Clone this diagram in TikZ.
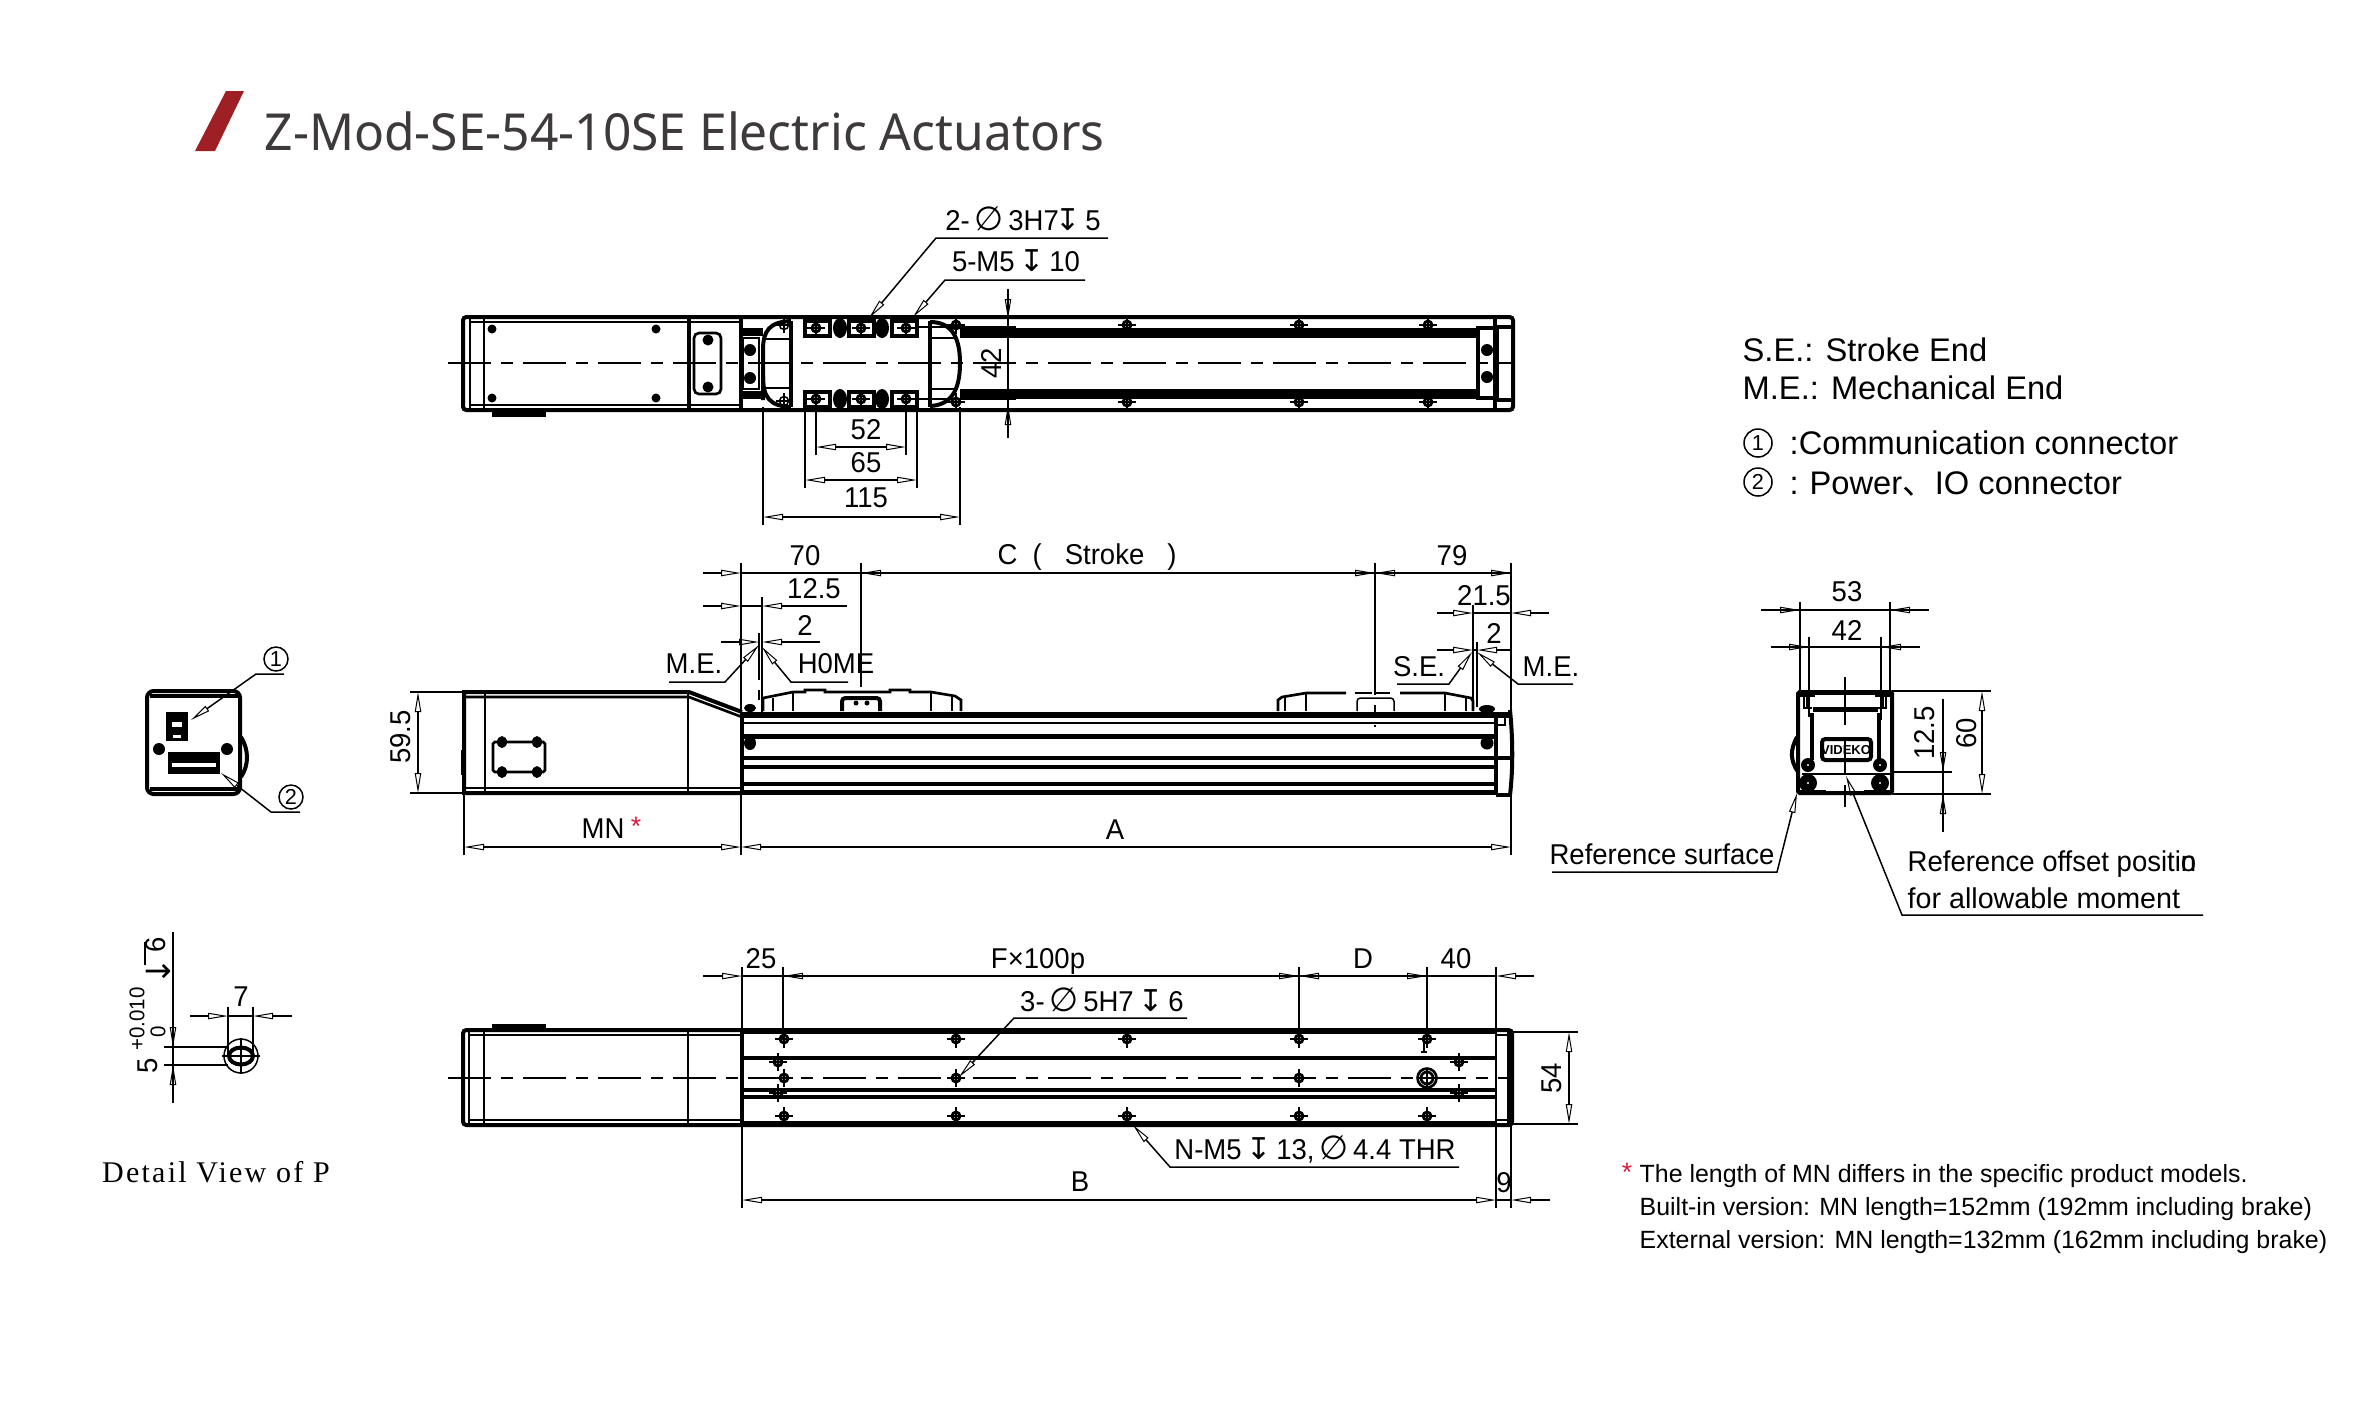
\documentclass[tikz,border=0pt]{standalone}
\usepackage{fontspec}
\usetikzlibrary{arrows.meta,calc}
\newfontfamily\dimfont[FakeStretch=0.96]{Liberation Sans}
\newfontfamily\notefont{Liberation Sans}
\newfontfamily\titlefont[FakeStretch=0.975]{Noto Sans}
\newfontfamily\detailfont[LetterSpace=7.5]{Liberation Serif}
\newfontfamily\glyphfont{DejaVu Sans}
\newfontfamily\cjkfont{Noto Sans CJK SC}
\definecolor{slashred}{HTML}{9E1F24}
\definecolor{titlegray}{HTML}{3E3A3B}
\definecolor{starred}{HTML}{D7193C}
\newcommand{\phisym}{{\glyphfont\fontsize{10pt}{10pt}\selectfont ∅}}
\newcommand{\depthsym}{{\glyphfont\fontsize{9pt}{10pt}\selectfont ↧}}
\newcommand{\railhole}[2]{\fill (#1,#2) circle (5.5); \fill[white] (#1,#2) circle (2.2); \draw[dimline] (#1-9,#2) -- (#1+9,#2); \draw[dimline] (#1,#2-9) -- (#1,#2+9);}
\newcommand{\boltdot}[3]{\fill (#1,#2) circle (#3); \fill[white] (#1,#2) circle (1.2);}
\tikzset{
  tipopen/.tip={Triangle[open,length=6pt,width=1.9pt,line width=.3pt]},
  dimline/.style={line width=.45pt},
  dimend/.style={dimline,-tipopen},
  dimboth/.style={dimline,tipopen-tipopen},
  heavy/.style={line width=1.2pt},
  medium/.style={line width=.8pt},
  centerline/.style={line width=.45pt,dash pattern=on 13pt off 3pt on 3.5pt off 3pt},
  lab/.style={font=\dimfont\fontsize{8.6pt}{10pt}\selectfont,inner sep=0pt},
  note/.style={font=\notefont\fontsize{7.48pt}{9pt}\selectfont,inner sep=0pt,anchor=base west},
  side/.style={font=\notefont\fontsize{9.8pt}{11pt}\selectfont,inner sep=0pt,anchor=base west},
  callout/.style={circle,draw,line width=.45pt,inner sep=0pt,minimum size=#1,font=\notefont\fontsize{6.5pt}{8pt}\selectfont}
}
\begin{document}
\begin{tikzpicture}[x=0.3pt,y=-0.3pt]
\useasboundingbox (0,0) rectangle (2362,1417);
\fill[white] (0,0) rectangle (2362,1417);
%title
\fill[slashred] (195,151) -- (215,151) -- (244,91) -- (226,91) -- cycle;
\node[anchor=base west,inner sep=0pt,text=titlegray,font=\titlefont\fontsize{15.3pt}{18pt}\selectfont] (title) at (264,150) {Z-Mod-SE-54-10SE Electric Actuators};
%top view
\draw[heavy,rounded corners=1pt] (463,317) rectangle (1513,410);
\draw[medium] (470,322) -- (741,322);
\draw[medium] (470,405) -- (741,405);
\draw[medium] (470,317) -- (470,410);
\draw[medium] (484,317) -- (484,410);
\draw[heavy] (689,317) -- (689,410);
\draw[heavy] (741,317) -- (741,410);
\fill (492,410) rectangle (546,417);
\fill (492,329) circle (4.5);
\fill (492,398) circle (4.5);
\fill (656,329) circle (4.5);
\fill (656,398) circle (4.5);
\draw[medium,rounded corners=1.5pt] (694,333) rectangle (721,394);
\fill (708,340) circle (5.5);
\fill (708,387) circle (5.5);
\fill (743,328) rectangle (763,336);
\fill (743,391) rectangle (763,399);
\fill (750,350) circle (6);
\fill (750,378) circle (6);
\draw[medium] (743,338) rectangle (759,389);
\draw[heavy] (763,400) -- (763,350) .. controls (763,330) and (770,322) .. (791,321);
\draw[heavy] (763,376) .. controls (763,398) and (770,406) .. (791,407);
\draw[heavy] (791,321) -- (791,407);
\draw[medium] (763,339) -- (791,339);
\draw[medium] (763,388) -- (791,388);
\draw[heavy] (930,321) -- (930,407);
\draw[heavy] (930,322) .. controls (950,322) and (960,335) .. (960,363) .. controls (960,392) and (950,405) .. (930,406);
\draw[medium] (930,338) -- (957,338);
\draw[medium] (930,389) -- (957,389);
\draw[dimline] (784,317) -- (784,333);
\draw[dimline] (776,325) -- (792,325);
\draw[dimline] (784,325) circle (4.5);
\draw[dimline] (776,401) -- (792,401);
\draw[dimline] (784,393) -- (784,409);
\draw[dimline] (784,401) circle (4.5);
\railhole{956}{325}
\railhole{956}{402}
\draw[heavy] (805,321) rectangle (830,336);
\draw[heavy] (849,321) rectangle (874,336);
\draw[heavy] (892,321) rectangle (917,336);
\draw[heavy] (805,392) rectangle (830,407);
\draw[heavy] (849,392) rectangle (874,407);
\draw[heavy] (892,392) rectangle (917,407);
\fill (840,328) ellipse [x radius=7,y radius=10];
\fill (882,328) ellipse [x radius=7,y radius=10];
\fill (840,399) ellipse [x radius=7,y radius=10];
\fill (882,399) ellipse [x radius=7,y radius=10];
\railhole{816}{328}
\railhole{861}{328}
\railhole{906}{328}
\railhole{816}{399}
\railhole{861}{399}
\railhole{906}{399}
\fill (960,328) rectangle (1478,338);
\fill (960,389) rectangle (1478,399);
\railhole{1127}{325}
\railhole{1299}{325}
\railhole{1428}{325}
\railhole{1127}{402}
\railhole{1299}{402}
\railhole{1428}{402}
\draw[heavy] (1478,328) rectangle (1495,398);
\fill (1487,350) circle (6);
\fill (1487,377) circle (6);
\draw[heavy] (1495,317) -- (1495,410);
\draw[medium] (1498,327) -- (1498,400);
\draw[heavy] (1495,327) -- (1512,327);
\draw[heavy] (1495,400) -- (1512,400);
\draw[centerline] (448,363) -- (1513,363);
%top view dims
\draw[dimline] (1008,289) -- (1008,438);
\draw[dimend] (1008,301) -- (1008,319);
\draw[dimend] (1008,425) -- (1008,405);
\draw[dimline] (917,327) -- (1016,327);
\draw[dimline] (917,399) -- (1016,399);
\node[lab,rotate=90] (h42) at (991,363) {42};
\draw[dimline] (816,407) -- (816,455);
\draw[dimline] (906,407) -- (906,455);
\draw[dimboth] (816,447) -- (906,447);
\node[lab] (w52) at (866,430) {52};
\draw[dimline] (805,407) -- (805,488);
\draw[dimline] (917,407) -- (917,488);
\draw[dimboth] (805,480) -- (917,480);
\node[lab] (w65) at (866,463) {65};
\draw[dimline] (763,407) -- (763,525);
\draw[dimline] (960,407) -- (960,525);
\draw[dimboth] (763,517) -- (960,517);
\node[lab] (w115) at (866,498) {115};
\draw[dimend] (1108,238) -- (936,238) -- (869,318);
\node[lab] (pin3) at (1023,219) {2-\,\phisym\,3H7\hspace{-1pt}\depthsym\,5};
\draw[dimend] (1085,280) -- (945,280) -- (913,317);
\node[lab] (m5top) at (1016,261) {5-M5\,\depthsym\,10};
%side view
\draw[heavy] (742,712) -- (689,692) -- (464,692) -- (464,793) -- (742,793);
\draw[medium] (464,697) -- (689,697) -- (742,717);
\draw[medium] (464,788) -- (742,788);
\draw[medium] (485,692) -- (485,793);
\draw[medium] (688,692) -- (688,793);
\draw[heavy] (742,712) -- (742,795);
\draw[medium] (462,750) -- (462,775);
\draw[medium,rounded corners=.5pt] (493,742) rectangle (545,772);
\fill (502,742) ellipse [x radius=5,y radius=6];
\fill (537,742) ellipse [x radius=5,y radius=6];
\fill (502,772) ellipse [x radius=5,y radius=6];
\fill (537,772) ellipse [x radius=5,y radius=6];
\fill (742,712) rectangle (1496,718);
\draw[dimline] (742,723) -- (1496,723);
\fill (742,734) rectangle (1496,739);
\fill (742,756) rectangle (1496,760);
\fill (742,765) rectangle (1496,769);
\fill (742,782) rectangle (1496,786);
\fill (742,790) rectangle (1496,795);
\fill (750,743) ellipse [x radius=6,y radius=7];
\fill (750,708) ellipse [x radius=6,y radius=4];
\draw[medium] (763,711) -- (763,698) -- (793,692) -- (805,692) -- (805,690) -- (825,690) -- (825,692) -- (890,692) -- (890,690) -- (910,690) -- (910,692) -- (931,692) -- (955,696) -- (961,700) -- (961,711);
\draw[medium] (773,698) -- (773,711);
\draw[medium] (793,692) -- (793,711);
\draw[medium] (931,692) -- (931,711);
\draw[medium] (952,696) -- (952,711);
\draw[heavy,rounded corners=1pt] (842,711) -- (842,698) -- (880,698) -- (880,711);
\fill (856,703) circle (2.5);
\fill (867,703) circle (2.5);
\draw[medium] (1278,711) -- (1278,700) -- (1282,697) -- (1306,693) -- (1346,693);
\draw[medium] (1355,693) -- (1372,693);
\draw[medium] (1376,693) -- (1390,693);
\draw[medium] (1400,693) -- (1445,693) -- (1471,698) -- (1473,701) -- (1473,711);
\draw[dimline] (1285,696) -- (1285,711);
\draw[dimline] (1306,693) -- (1306,711);
\draw[dimline] (1445,693) -- (1445,711);
\draw[dimline] (1466,697) -- (1466,711);
\draw[dimline,rounded corners=1pt] (1357,711) -- (1357,698) -- (1394,698) -- (1394,711);
\fill (1487,709) ellipse [x radius=8,y radius=4];
\fill (1487,743) circle (6.5);
\fill (1478,712) rectangle (1510,718);
\draw[heavy] (1496,712) -- (1496,795);
\draw[heavy] (1510,710) .. controls (1513,740) and (1513,770) .. (1510,795);
\draw[heavy] (1496,758) -- (1511,758);
\draw[heavy] (1496,795) -- (1511,795);
\draw[medium] (1496,716) rectangle (1505,725);
%side view dims
\draw[dimline] (741,563) -- (741,855);
\draw[dimline] (861,563) -- (861,677);
\draw[dimline,dashed] (861,677) -- (861,700);
\draw[dimend] (703,573) -- (741,573);
\draw[dimline] (741,573) -- (861,573);
\draw[dimend] (1375,573) -- (861,573);
\node[lab] (w70) at (805,556) {70};
\draw[dimline] (1375,563) -- (1375,685);
\draw[dimline,dashed] (1375,685) -- (1375,727);
\draw[dimend] (861,573) -- (1375,573);
\draw[dimend] (1375,573) -- (1511,573);
\draw[dimend] (1511,573) -- (1375,573);
\node[lab] (stroke) at (1087,557) {C\ \ (\ \ \ Stroke\ \ \ )};
\node[lab] (w79) at (1452,556) {79};
\draw[dimline] (762,597) -- (762,712);
\draw[dimend] (703,606) -- (741,606);
\draw[dimline] (741,606) -- (762,606);
\draw[dimend] (847,606) -- (762,606);
\node[lab] (w125) at (814,589) {12.5};
\draw[dimline] (759,633) -- (759,670);
\draw[dimline,dashed] (759,670) -- (759,708);
\draw[dimend] (721,642) -- (759,642);
\draw[dimend] (820,642) -- (762,642);
\node[lab] (w2l) at (805,625) {2};
\draw[dimend] (669,682) -- (725,682) -- (759,645);
\node[lab] (melft) at (694,664) {M.E.};
\draw[dimend] (848,682) -- (791,682) -- (762,647);
\node[lab] (home) at (836,664) {H0ME};
\draw[dimline] (410,692) -- (464,692);
\draw[dimline] (410,793) -- (464,793);
\draw[dimboth] (418,692) -- (418,793);
\node[lab,rotate=90] (h595) at (401,737) {59.5};
\draw[dimline] (464,793) -- (464,855);
\draw[dimboth] (464,847) -- (741,847);
\node[lab] (mn) at (603,829) {MN};
\node[inner sep=0pt,text=starred,font=\notefont\fontsize{8pt}{9pt}\selectfont] (mnstar) at (636,826) {*};
\draw[dimline] (1511,563) -- (1511,855);
\draw[dimboth] (741,847) -- (1511,847);
\node[lab] (wa) at (1115,830) {A};
\draw[dimline] (1473,605) -- (1473,710);
\draw[dimend] (1437,613) -- (1473,613);
\draw[dimline] (1473,613) -- (1511,613);
\draw[dimend] (1549,613) -- (1511,613);
\node[lab] (w215) at (1484,596) {21.5};
\draw[dimline] (1477,642) -- (1477,707);
\draw[dimend] (1437,650) -- (1473,650);
\draw[dimline] (1473,650) -- (1477,650);
\draw[dimend] (1510,650) -- (1477,650);
\node[lab] (w2r) at (1494,633) {2};
\draw[dimend] (1397,684) -- (1449,684) -- (1472,652);
\node[lab] (serht) at (1419,667) {S.E.};
\draw[dimend] (1573,684) -- (1518,684) -- (1477,652);
\node[lab] (merht) at (1551,667) {M.E.};
%bottom view
\draw[heavy,rounded corners=1pt] (463,1030) -- (1512,1030) -- (1512,1125) -- (463,1125) -- cycle;
\fill (492,1024) rectangle (546,1030);
\fill (741,1030) rectangle (1496,1034);
\draw[medium] (469,1035) -- (741,1035);
\draw[medium] (469,1120) -- (741,1120);
\draw[medium] (469,1030) -- (469,1125);
\draw[medium] (484,1030) -- (484,1125);
\draw[medium] (688,1030) -- (688,1125);
\draw[heavy] (742,1030) -- (742,1125);
\fill (742,1056) rectangle (1496,1060);
\fill (742,1088) rectangle (1496,1092);
\fill (742,1095) rectangle (1496,1099);
\fill (742,1121) rectangle (1496,1125);
\draw[medium] (1496,1030) -- (1496,1125);
\fill (1507,1030) rectangle (1512,1125);
\draw[medium] (1496,1035) -- (1507,1035);
\draw[medium] (1496,1120) -- (1507,1120);
\railhole{784}{1039}
\railhole{956}{1039}
\railhole{1127}{1039}
\railhole{1299}{1039}
\railhole{1427}{1039}
\railhole{784}{1078}
\railhole{956}{1078}
\railhole{1299}{1078}
\railhole{784}{1116}
\railhole{956}{1116}
\railhole{1127}{1116}
\railhole{1299}{1116}
\railhole{1427}{1116}
\railhole{778}{1062}
\railhole{778}{1093}
\railhole{1459}{1062}
\railhole{1459}{1093}
\draw[dimline] (1424,1043) -- (1424,1052);
\draw[medium] (1421,1052) -- (1427,1052);
\draw[centerline] (448,1078) -- (1512,1078);
\fill[white] (1427,1078) circle (9);
\draw[medium] (1427,1078) circle (9.5);
\draw[medium] (1427,1078) circle (6);
\draw[dimline] (1419,1078) -- (1435,1078);
\draw[dimline] (1427,1070) -- (1427,1086);
%bottom view dims
\draw[dimline] (742,967) -- (742,1208);
\draw[dimline] (783,967) -- (783,1039);
\draw[dimline] (1299,967) -- (1299,1039);
\draw[dimline] (1427,967) -- (1427,1039);
\draw[dimline] (1496,967) -- (1496,1208);
\draw[dimline] (1511,1125) -- (1511,1208);
\draw[dimend] (703,976) -- (742,976);
\draw[dimline] (742,976) -- (783,976);
\draw[dimend] (1299,976) -- (783,976);
\draw[dimend] (783,976) -- (1299,976);
\draw[dimend] (1427,976) -- (1299,976);
\draw[dimend] (1299,976) -- (1427,976);
\draw[dimend] (1534,976) -- (1496,976);
\draw[dimline] (1427,976) -- (1496,976);
\node[lab] (w25) at (761,959) {25};
\node[lab] (pitch) at (1038,961) {F×100p};
\node[lab] (wd) at (1363,959) {D};
\node[lab] (w40) at (1456,959) {40};
\draw[dimend] (1187,1018) -- (1014,1018) -- (959,1077);
\node[lab] (pin5) at (1102,1000) {3-\,\phisym\,5H7\,\depthsym\,6};
\draw[dimend] (1459,1167) -- (1170,1167) -- (1133,1125);
\node[lab] (m5thr) at (1315,1149) {N-M5\,\depthsym\,13,\,\phisym\,4.4 THR};
\draw[dimboth] (742,1200) -- (1496,1200);
\draw[dimline] (1496,1200) -- (1511,1200);
\draw[dimend] (1550,1200) -- (1511,1200);
\node[lab] (wb) at (1080,1182) {B};
\node[lab] (w9) at (1504,1183) {9};
\draw[dimline] (1512,1032) -- (1578,1032);
\draw[dimline] (1512,1124) -- (1578,1124);
\draw[dimboth] (1569,1032) -- (1569,1124);
\node[lab,rotate=90] (h54) at (1552,1078) {54};
%left end view
\draw[heavy,rounded corners=2pt] (147,691) rectangle (240,794);
\draw[heavy] (150,696) -- (238,696);
\draw[heavy] (150,789) -- (238,789);
\draw[heavy] (241,737) .. controls (249,750) and (249,765) .. (241,777);
\fill (166,712) rectangle (188,741);
\fill[white] (172,722) rectangle (182,727);
\fill[white] (173,735) rectangle (181,738);
\fill (168,752) rectangle (220,774);
\fill[white] (172,763) rectangle (216,767);
\fill (159,749) circle (6);
\fill (227,749) circle (6);
\draw[dimend] (284,674) -- (256,674) -- (191,720);
\node[callout=24*0.3pt] (conn1) at (276,659) {1};
\draw[dimend] (300,812) -- (271,812) -- (221,773);
\node[callout=24*0.3pt] (conn2) at (291,797) {2};
%detail view
\draw[dimline] (173,932) -- (173,1103);
\draw[dimline] (164,1047) -- (228,1047);
\draw[dimline] (164,1065) -- (228,1065);
\draw[dimend] (173,1027) -- (173,1047);
\draw[dimend] (173,1085) -- (173,1065);
\draw[dimline] (241,1056) circle (17);
\draw[heavy] (241,1056) ellipse [x radius=12,y radius=8.5];
\draw[dimline] (222,1056) -- (260,1056);
\draw[dimline] (241,1038) -- (241,1074);
\draw[dimline] (228,1007) -- (228,1056);
\draw[dimline] (253,1007) -- (253,1056);
\draw[dimend] (190,1016) -- (228,1016);
\draw[dimline] (228,1016) -- (253,1016);
\draw[dimend] (292,1016) -- (253,1016);
\node[lab] (w7) at (241,997) {7};
\node[lab,rotate=90] (h5) at (148,1066) {5};
\node[rotate=90,inner sep=0pt,font=\dimfont\fontsize{6.4pt}{7pt}\selectfont] (tolup) at (137,1019) {+0.010};
\node[rotate=90,inner sep=0pt,font=\dimfont\fontsize{6.4pt}{7pt}\selectfont] (tollo) at (158,1032) {0};
\node[rotate=90,inner sep=0pt,font=\glyphfont\fontsize{10pt}{10pt}\selectfont] (dep) at (158,972) {↓};
\node[lab,rotate=90] (dep6) at (156,945) {6};
\draw[dimline] (145,942) -- (145,965);
\node[inner sep=0pt,font=\detailfont\fontsize{9pt}{11pt}\selectfont] (detail) at (216,1172) {Detail View of P};
%right end view
\draw[heavy,rounded corners=.5pt] (1798,692) rectangle (1892,793);
\fill (1798,692) rectangle (1815,697);
\fill (1875,692) rectangle (1892,697);
\draw[medium] (1815,694) -- (1875,694);
\draw[dimline] (1804,697) -- (1804,708);
\draw[dimline] (1807,697) -- (1807,708);
\draw[dimline] (1883,697) -- (1883,708);
\draw[dimline] (1886,697) -- (1886,708);
\draw[medium] (1803,708) -- (1812,708);
\draw[medium] (1878,708) -- (1887,708);
\fill (1813,707) rectangle (1878,712);
\draw[heavy] (1812,713) -- (1812,760);
\draw[heavy] (1879,713) -- (1879,760);
\draw[medium] (1802,774) -- (1892,774);
\fill (1798,790) rectangle (1826,794);
\fill (1864,790) rectangle (1892,794);
\draw[heavy] (1797,737) .. controls (1790,750) and (1790,760) .. (1798,772);
\boltdot{1808}{765}{7}
\boltdot{1880}{765}{7}
\boltdot{1808}{783}{9}
\boltdot{1880}{783}{9}
\draw[heavy,rounded corners=1pt] (1822,739) rectangle (1871,760);
\node[inner sep=0pt,font=\notefont\bfseries\fontsize{3.9pt}{4pt}\selectfont] (logo) at (1846,750) {VIDEKO};
\draw[dimline] (1845,677) -- (1845,725);
\draw[dimline] (1845,737) -- (1845,775);
\draw[dimline] (1845,785) -- (1845,807);
%right end view dims
\draw[dimline] (1800,602) -- (1800,692);
\draw[dimline] (1890,602) -- (1890,692);
\draw[dimline] (1761,610) -- (1929,610);
\draw[dimend] (1761,610) -- (1800,610);
\draw[dimend] (1929,610) -- (1890,610);
\node[lab] (w53) at (1847,592) {53};
\draw[dimline] (1809,637) -- (1809,717);
\draw[dimline] (1881,637) -- (1881,720);
\draw[dimline] (1771,647) -- (1920,647);
\draw[dimend] (1771,647) -- (1809,647);
\draw[dimend] (1920,647) -- (1881,647);
\node[lab] (w42) at (1847,630) {42};
\draw[dimline] (1892,691) -- (1991,691);
\draw[dimline] (1892,794) -- (1991,794);
\draw[dimboth] (1982,691) -- (1982,794);
\node[lab,rotate=90] (h60) at (1967,733) {60};
\draw[dimline] (1892,772) -- (1952,772);
\draw[dimline] (1943,699) -- (1943,832);
\draw[dimend] (1943,750) -- (1943,772);
\draw[dimend] (1943,816) -- (1943,794);
\node[lab,rotate=90] (h125) at (1925,733) {12.5};
\draw[dimend] (1552,872) -- (1777,872) -- (1797,793);
\node[lab] (refsurf) at (1662,854) {Reference surface};
\draw[dimend] (2203,915) -- (1902,915) -- (1846,776);
\node[lab,anchor=west] (refpos) at (1907,864) {Reference offset positi\rlap{n}o};
\node[lab,anchor=west,font=\notefont\fontsize{8.6pt}{10pt}\selectfont] (refmom) at (1907,898) {for allowable moment};
%notes
\node[side] (sedef) at (1742,361) {S.E.: Stroke End};
\node[side] (medef) at (1742,399) {M.E.: Mechanical End};
\node[callout=28*0.3pt] (item1) at (1758,443) {1};
\node[side] (item1txt) at (1789,454) {:Communication connector};
\node[callout=28*0.3pt] (item2) at (1758,482) {2};
\node[side] (item2txt) at (1789,494) {:\,\,Power{\cjkfont 、}IO connector};
\node[inner sep=0pt,text=starred,font=\notefont\fontsize{8pt}{9pt}\selectfont] (notestar) at (1627,1172) {*};
\node[note] (note1) at (1639,1182) {The length of MN differs in the specific product models.};
\node[note] (note2) at (1639,1215) {Built-in version: MN length=152mm (192mm including brake)};
\node[note] (note3) at (1639,1248) {External version: MN length=132mm (162mm including brake)};
\end{tikzpicture}
\end{document}
